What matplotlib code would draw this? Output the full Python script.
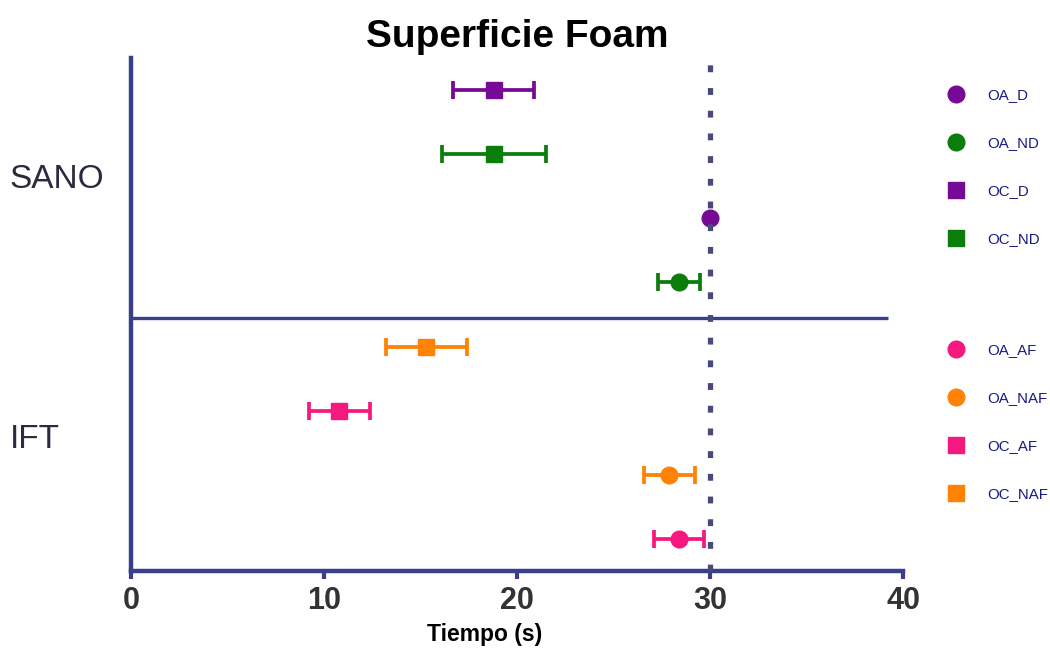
import numpy as np
import matplotlib.pyplot as plt
from matplotlib.lines import Line2D

plt.rcParams['font.family'] = ['Liberation Sans', 'DejaVu Sans']

# series, bottom row first
names = ['OA_AF', 'OA_NAF', 'OC_AF', 'OC_NAF', 'OA_ND', 'OA_D', 'OC_ND', 'OC_D']
means = [28.4, 27.9, 10.8, 15.3, 28.4, 30.0, 18.8, 18.8]
errs = [1.3, 1.3, 1.6, 2.1, 1.1, 0.0, 2.7, 2.1]
rows = [0.5, 1.5, 2.5, 3.5, 4.5, 5.5, 6.5, 7.5]
colors = ['#F5197F', '#FF8205', '#F5197F', '#FF8205', '#0A7D0A', '#760A96', '#0A7D0A', '#760A96']
markers = ['o', 'o', 's', 's', 'o', 'o', 's', 's']

groups = ['SANO', 'IFT']
group_pos = [6.1, 2.05]
ref_line = 30
sep_line = 3.95
xticks = [0, 10, 20, 30, 40]

legend_top = ['OA_D', 'OA_ND', 'OC_D', 'OC_ND']
legend_bot = ['OA_AF', 'OA_NAF', 'OC_AF', 'OC_NAF']

axcol = '#3a3f8a'

fig = plt.figure(figsize=(10.5, 6.48), dpi=100)
ax = fig.add_axes([0.1248, 0.1188, 0.7352, 0.7917])

for n, m, e, r, c, mk in zip(names, means, errs, rows, colors, markers):
    ax.errorbar(m, r, xerr=e if e > 0 else None, fmt=mk, color=c, ms=12,
                elinewidth=2.7, capsize=6.5, capthick=2.7, zorder=3)

ax.axvline(ref_line, color='#474a7a', lw=3.8, linestyle=(0, (1.3, 3.0)), zorder=4)
ax.plot([0, 39.2], [sep_line, sep_line], color=axcol, lw=2.4, zorder=2,
        solid_capstyle='butt')

ax.set_xlim(0, 40)
ax.set_ylim(0, 8)
ax.set_yticks([])
ax.set_xticks(xticks)
ax.set_xticklabels([str(t) for t in xticks], fontsize=22, fontweight='bold', color='#333333')
ax.tick_params(axis='x', direction='out', length=6, width=3, color=axcol, pad=5)

for s in ['top', 'right']:
    ax.spines[s].set_visible(False)
for s in ['left', 'bottom']:
    ax.spines[s].set_color(axcol)
    ax.spines[s].set_linewidth(3.2)
    ax.spines[s].set_capstyle('projecting')

for g, p in zip(groups, group_pos):
    ax.text(-0.157, p, g, transform=ax.get_yaxis_transform(), fontsize=24,
            color='#2a2a40', ha='left', va='center')

ax.set_title('Superficie Foam', fontsize=28, fontweight='bold', pad=8)
ax.set_xlabel('Tiempo (s)', fontsize=16.5, fontweight='bold', labelpad=5, x=0.4585)

def handles(lst):
    hs = []
    for n in lst:
        i = names.index(n)
        hs.append(Line2D([], [], linestyle='none', marker=markers[i], color=colors[i],
                         ms=12, label=n))
    return hs

for lst, y in [(legend_top, 0.873), (legend_bot, 0.48)]:
    leg = fig.legend(handles=handles(lst), loc='upper left', bbox_to_anchor=(0.896, y),
                     frameon=False, fontsize=10.8, labelspacing=2.27, handletextpad=1.5,
                     handlelength=1.2, borderaxespad=0)
    for t in leg.get_texts():
        t.set_color('#1a1a80')

fig.savefig('out.png', dpi=100)
